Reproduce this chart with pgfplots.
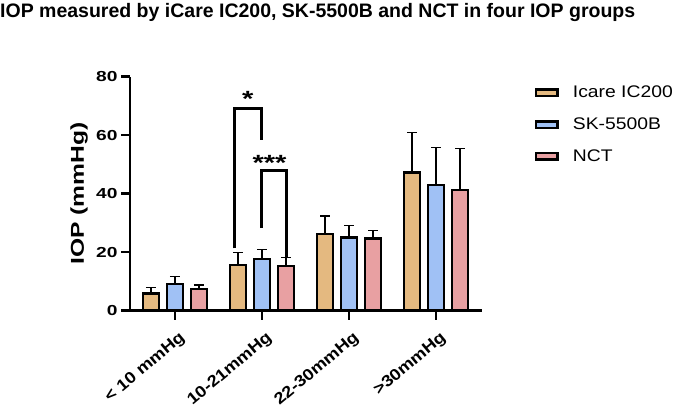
\documentclass[border=0pt]{standalone}
\usepackage{fontspec}
\setmainfont{Liberation Sans}[FakeStretch=1.15]
\newfontfamily\titlefont{Liberation Sans}
\usepackage{graphicx}
\usepackage{pgfplots}
\pgfplotsset{compat=1.18}
\definecolor{cIcare}{RGB}{228,185,128}
\definecolor{cSK}{RGB}{160,193,245}
\definecolor{cNCT}{RGB}{232,160,162}
\newcommand{\sx}[1]{\scalebox{1.15}[1]{#1}}
\pgfplotsset{
  errstyle/.style={error bars/.cd, y dir=plus, y explicit,
    error bar style={line width=1.2pt, black},
    error mark options={rotate=90, line width=1.2pt, mark size=5pt, black}},
}
\begin{document}
\begin{tikzpicture}
\useasboundingbox (0pt,0pt) rectangle (676pt,411pt);
\node[anchor=base west, inner sep=0pt] at (0pt,393.3pt) {\titlefont\fontsize{19.5}{23}\selectfont\bfseries IOP measured by iCare IC200, SK-5500B and NCT in four IOP groups};
\begin{axis}[
  at={(130pt,100.3pt)}, anchor=south west,
  scale only axis, width=351.7pt, height=234pt,
  xmin=-0.517, xmax=3.525, ymin=0, ymax=80,
  ybar=8.2pt, bar width=15.8pt,
  axis lines=left, axis line style={line width=2.5pt, -},
  ytick={0,20,40,60,80}, xtick={0,1,2,3},
  xticklabels={< 10 mmHg, 10-21mmHg, 22-30mmHg, >30mmHg},
  yticklabel={\sx{\pgfmathprintnumber{\tick}}},
  tick align=outside, major tick length=9pt, tick style={line width=2.5pt, black},
  /pgf/number format/assume math mode=true,
  yticklabel style={font=\fontsize{14.5}{17}\selectfont\bfseries},
  xticklabel style={font=\fontsize{16}{19}\selectfont\bfseries, rotate=40, anchor=north east, inner sep=1pt, yshift=-9pt, xshift=-3pt},
  ylabel={\sx{IOP (mmHg)}},
  ylabel style={font=\fontsize{18.6}{22}\selectfont\bfseries, at={(axis description cs:-0.145,0.5)}, anchor=center},
  clip=false,
  legend cell align=left,
  legend image code/.code={\draw[#1, line width=2.5pt] (0pt,-3.25pt) rectangle (21.5pt,3.25pt);},
  legend style={draw=none, fill=none, at={(1,1)}, anchor=north west, xshift=53pt, yshift=-7.3pt,
    font=\fontsize{16.8}{20}\selectfont, row sep=14.5pt, inner sep=0pt,
    /tikz/every odd column/.style={column sep=12pt}},
]
\addplot[fill=cIcare, draw=black, line width=2.5pt, errstyle]
 coordinates {(0,5.95) +- (0,1.95) (1,15.7) +- (0,4.1) (2,26.2) +- (0,6.2) (3,47.3) +- (0,13.6)};
\addplot[fill=cSK, draw=black, line width=2.5pt, errstyle]
 coordinates {(0,9.1) +- (0,2.5) (1,17.6) +- (0,3.4) (2,25.0) +- (0,4.2) (3,43.0) +- (0,12.9)};
\addplot[fill=cNCT, draw=black, line width=2.5pt, errstyle]
 coordinates {(0,7.4) +- (0,1.4) (1,15.2) +- (0,3.0) (2,24.7) +- (0,2.7) (3,41.3) +- (0,14.2)};
\legend{Icare IC200, SK-5500B, NCT}
\addplot[sharp plot, black, line width=3pt, line join=miter, forget plot, mark=none]
 coordinates {(0.68,21.3) (0.68,69.2) (0.99,69.2) (0.99,58.4)};
\addplot[sharp plot, black, line width=3pt, line join=miter, forget plot, mark=none]
 coordinates {(0.99,28.2) (0.99,48.1) (1.285,48.1) (1.285,18.5)};
\node[anchor=base, font=\fontsize{22}{22}\selectfont\bfseries] at (axis cs:0.836,69.9) {\sx{*}};
\node[anchor=base, font=\fontsize{22}{22}\selectfont\bfseries] at (axis cs:1.087,48.0) {\sx{***}};
\end{axis}
\end{tikzpicture}
\end{document}
